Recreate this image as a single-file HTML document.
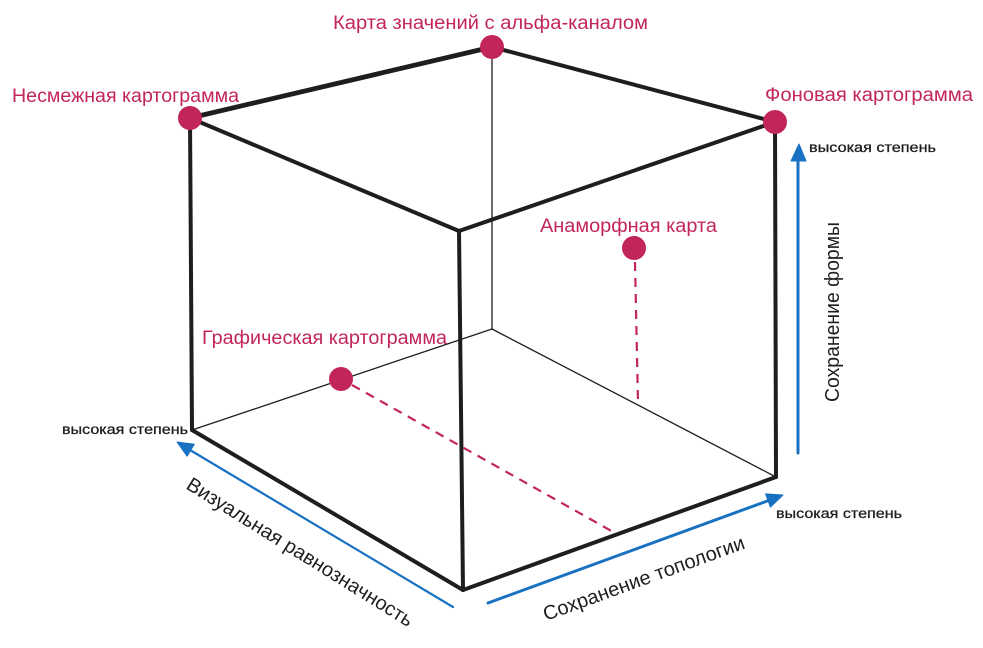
<!DOCTYPE html>
<html>
<head>
<meta charset="utf-8">
<style>
  html, body { margin:0; padding:0; background:#ffffff; }
  body { width:983px; height:648px; overflow:hidden; }
  svg { display:block; }
  text { font-family: "Liberation Sans", "DejaVu Sans", sans-serif; }
</style>
</head>
<body>
<svg width="983" height="648" viewBox="0 0 983 648" xmlns="http://www.w3.org/2000/svg">
  <rect width="983" height="648" fill="#ffffff"/>

  <!-- thin hidden edges -->
  <g stroke="#1e1e1e" stroke-width="1.3" fill="none" stroke-linecap="round">
    <line x1="492" y1="47" x2="492" y2="329"/>
    <line x1="492" y1="329" x2="192" y2="430"/>
    <line x1="492" y1="329" x2="776" y2="477"/>
  </g>

  <!-- thick edges -->
  <g stroke="#1e1e1e" stroke-width="4" fill="none" stroke-linecap="round" stroke-linejoin="round">
    <line x1="190" y1="118" x2="492" y2="47" stroke-width="4.8"/>
    <line x1="492" y1="47" x2="775" y2="122"/>
    <line x1="190" y1="118" x2="459" y2="231"/>
    <line x1="459" y1="231" x2="775" y2="122"/>
    <line x1="190" y1="118" x2="192" y2="430"/>
    <line x1="459" y1="231" x2="463" y2="590"/>
    <line x1="775" y1="122" x2="776" y2="477"/>
    <line x1="192" y1="430" x2="463" y2="590"/>
    <line x1="463" y1="590" x2="776" y2="477"/>
  </g>

  <!-- dashed projections -->
  <g stroke="#c2255c" stroke-width="2.2" fill="none" stroke-dasharray="9 7">
    <line x1="352" y1="385" x2="615" y2="533"/>
    <line x1="635" y1="262" x2="638" y2="403"/>
  </g>

  <!-- blue axes -->
  <g stroke="#1971c2" fill="none" stroke-linecap="round">
    <line x1="798" y1="453" x2="798" y2="158" stroke-width="3"/>
    <line x1="488" y1="603" x2="770" y2="500" stroke-width="3"/>
    <line x1="453" y1="607" x2="190" y2="450" stroke-width="2.2"/>
  </g>
  <g fill="#1971c2" stroke="#1971c2" stroke-width="1" stroke-linejoin="round">
    <polygon points="799,144 791,161 806,161"/>
    <polygon points="783,495 770.4,507.1 765.6,493.9"/>
    <polygon points="177,442 194.3,444.2 187.1,456.2"/>
  </g>

  <!-- dots -->
  <g fill="#c2255c">
    <circle cx="190" cy="118" r="12"/>
    <circle cx="492" cy="47" r="12"/>
    <circle cx="775" cy="122" r="12"/>
    <circle cx="634" cy="248" r="12"/>
    <circle cx="341" cy="379" r="12"/>
  </g>

  <!-- crimson labels -->
  <g fill="#c2255c" font-size="19">
    <text x="333" y="29" textLength="315" lengthAdjust="spacingAndGlyphs">Карта значений с альфа-каналом</text>
    <text x="12" y="102" textLength="227" lengthAdjust="spacingAndGlyphs">Несмежная картограмма</text>
    <text x="765" y="101" textLength="208" lengthAdjust="spacingAndGlyphs">Фоновая картограмма</text>
    <text x="540" y="232" textLength="177" lengthAdjust="spacingAndGlyphs">Анаморфная карта</text>
    <text x="202" y="344" textLength="245" lengthAdjust="spacingAndGlyphs">Графическая картограмма</text>
  </g>

  <!-- small black labels -->
  <g fill="#1e1e1e" font-size="14" stroke="#1e1e1e" stroke-width="0.3">
    <text x="809" y="152" textLength="127" lengthAdjust="spacingAndGlyphs">высокая степень</text>
    <text x="62" y="434" textLength="126" lengthAdjust="spacingAndGlyphs">высокая степень</text>
    <text x="776" y="518" textLength="126" lengthAdjust="spacingAndGlyphs">высокая степень</text>
  </g>

  <!-- axis titles -->
  <g fill="#1e1e1e" font-size="20">
    <text transform="translate(839,402) rotate(-90)" x="0" y="0" textLength="180" lengthAdjust="spacingAndGlyphs">Сохранение формы</text>
    <text transform="translate(185,488) rotate(32)" x="0" y="0" textLength="263" lengthAdjust="spacingAndGlyphs">Визуальная равнозначность</text>
    <text transform="translate(546,621) rotate(-20)" x="0" y="0" textLength="213" lengthAdjust="spacingAndGlyphs">Сохранение топологии</text>
  </g>
</svg>
</body>
</html>
